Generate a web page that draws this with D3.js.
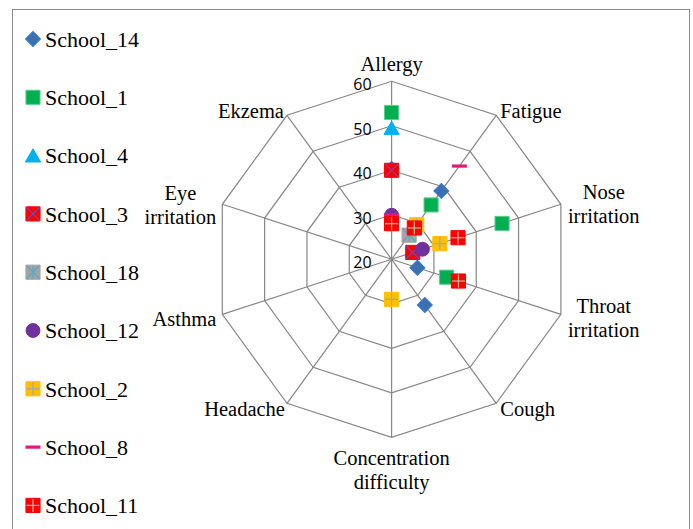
<!DOCTYPE html>
<html>
<head>
<meta charset="utf-8">
<script src="https://cdn.jsdelivr.net/npm/d3@7"></script>
<style>
  body { margin: 0; background: #fff; }
  .serif { font-family: "Liberation Serif", "Times New Roman", Times, serif; }
</style>
</head>
<body>
<div id="chart"></div>
<script>
// symptom categories, clockwise from the top
const categories = ["Allergy", "Fatigue", "Nose\nirritation", "Throat\nirritation", "Cough",
  "Concentration\ndifficulty", "Headache", "Asthma", "Eye\nirritation", "Ekzema"];
const ticks = [20, 30, 40, 50, 60];

// values per school (null = no marker shown)
const school14 = [40.3, 39.0, null, 26.1, 32.7, null, null, null, null, null];
const school1  = [53.0, 35.1, 46.1, 33.0, null, null, null, null, null, null];
const school4  = [49.5, null, null, null, null, null, null, null, null, null];
const school3  = [40.0, null, 25.0, null, null, null, null, null, null, null];
const school18 = [null, 26.7, null, null, null, null, null, null, null, null];
const school12 = [29.9, null, 27.3, null, null, null, null, null, null, null];
const school2  = [null, 29.6, 31.4, null, null, 29.0, null, null, null, null];
const school8  = [30.0, 45.9, null, null, null, null, null, null, null, null];
const school11 = [28.0, 28.7, 35.7, 35.8, null, null, null, null, null, null];

const seriesNames = ["School_14", "School_1", "School_4", "School_3", "School_18",
  "School_12", "School_2", "School_8", "School_11"];
const seriesValues = [school14, school1, school4, school3, school18, school12, school2, school8, school11];

const styles = {
  School_14: { shape: "diamond", fill: "#3e6fae", stroke: "#2b7bd6" },
  School_1:  { shape: "square", fill: "#00b050", stroke: "#5ccf8a" },
  School_4:  { shape: "triangle", fill: "#00b0f0", stroke: "#00b0f0" },
  School_3:  { shape: "square", fill: "#ff0000", stroke: "#ff0000", mark: "x", markColor: "#5b52c8" },
  School_18: { shape: "square", fill: "#a5a5a5", stroke: "#a5a5a5", mark: "star", markColor: "#4bacc6" },
  School_12: { shape: "circle", fill: "#7030a0", stroke: "#7030a0" },
  School_2:  { shape: "square", fill: "#ffc000", stroke: "#ffc000", mark: "plus", markColor: "#98a8c0" },
  School_8:  { shape: "dash", fill: "#e0197d", stroke: "none" },
  School_11: { shape: "square", fill: "#ff0000", stroke: "#ff0000", mark: "plus", markColor: "#c4bd97" }
};

const width = 693, height = 529;
const cx = 391.6, cy = 259.3, R = 178;

const svg = d3.select("#chart").append("svg")
  .attr("width", width)
  .attr("height", height);

// chart frame
svg.append("rect")
  .attr("x", 12.5).attr("y", 9.5)
  .attr("width", 677).attr("height", 560)
  .attr("fill", "none")
  .attr("stroke", "#8c8c8c")
  .attr("stroke-width", 1);

const r = d3.scaleLinear().domain([20, 60]).range([0, R]);
const angle = d3.scaleLinear().domain([0, categories.length]).range([0, 2 * Math.PI]);
const pt = (i, v) => [cx + r(v) * Math.sin(angle(i)), cy - r(v) * Math.cos(angle(i))];

const grid = svg.append("g");
const web = d3.line().curve(d3.curveLinearClosed);

grid.selectAll("path.ring")
  .data(ticks.slice(1))
  .join("path")
  .attr("class", "ring")
  .attr("d", t => web(categories.map((c, i) => pt(i, t))))
  .attr("fill", "none")
  .attr("stroke", "#878787")
  .attr("stroke-width", 1.2);

grid.selectAll("line.spoke")
  .data(categories)
  .join("line")
  .attr("class", "spoke")
  .attr("x1", cx).attr("y1", cy)
  .attr("x2", (c, i) => pt(i, 60)[0])
  .attr("y2", (c, i) => pt(i, 60)[1])
  .attr("stroke", "#878787")
  .attr("stroke-width", 1.2);

// value labels along the top axis
grid.selectAll("text.tick")
  .data(ticks)
  .join("text")
  .attr("class", "tick")
  .attr("x", cx - 20)
  .attr("y", t => cy - r(t) + 3)
  .attr("text-anchor", "end")
  .attr("dominant-baseline", "central")
  .style("font-family", "'Open Sans', sans-serif")
  .attr("font-size", 16)
  .attr("fill", "#000")
  .text(t => t);

// category labels: side offset and first-baseline offset from the outer vertex
const labelDx = [0, 4, 7, 7, 4, 0, -2, -6, -6, -3];
const labelDy = [-10, 3, -5, -1, 13, 28, 13, 12, -4.3, 3];
const lineH = 24;

categories.forEach((c, i) => {
  const [vx, vy] = pt(i, 60);
  const s = Math.sin(angle(i));
  const lines = c.split("\n");
  const t = svg.append("text")
    .attr("class", "serif")
    .attr("font-size", 20.5)
    .attr("fill", "#000");
  const spans = lines.map((l, k) => t.append("tspan")
    .attr("y", vy + labelDy[i] + k * lineH)
    .text(l));
  const ws = spans.map(sp => sp.node().getComputedTextLength());
  const bw = d3.max(ws);
  let left;
  if (Math.abs(s) < 0.1) left = vx - bw / 2;
  else if (s > 0) left = vx + labelDx[i];
  else left = vx + labelDx[i] - bw;
  spans.forEach((sp, k) => sp.attr("x", left + (bw - ws[k]) / 2));
});

function drawMarker(g, st) {
  if (st.shape === "diamond") {
    g.append("path")
      .attr("d", d3.symbol(d3.symbolSquare, 112)())
      .attr("transform", "rotate(45)")
      .attr("fill", st.fill).attr("stroke", st.stroke).attr("stroke-width", 1);
  } else if (st.shape === "square") {
    g.append("path")
      .attr("d", d3.symbol(d3.symbolSquare, 200)())
      .attr("fill", st.fill).attr("stroke", st.stroke).attr("stroke-width", 1);
  } else if (st.shape === "triangle") {
    g.append("path")
      .attr("d", d3.symbol(d3.symbolTriangle, 100)())
      .attr("transform", "translate(0,2)")
      .attr("fill", st.fill).attr("stroke", st.stroke).attr("stroke-width", 1);
  } else if (st.shape === "circle") {
    g.append("path")
      .attr("d", d3.symbol(d3.symbolCircle, 150)())
      .attr("fill", st.fill).attr("stroke", st.stroke).attr("stroke-width", 1);
  } else if (st.shape === "dash") {
    g.append("rect")
      .attr("x", -7.5).attr("y", -1.6)
      .attr("width", 15).attr("height", 3.2)
      .attr("fill", st.fill);
  }
  const h = 6.5;
  const segs = [];
  if (st.mark === "x" || st.mark === "star") segs.push([-h, -h, h, h], [-h, h, h, -h]);
  if (st.mark === "star") segs.push([0, -h, 0, h]);
  if (st.mark === "plus") segs.push([0, -h, 0, h], [-h, 0, h, 0]);
  segs.forEach(d => g.append("line")
    .attr("x1", d[0]).attr("y1", d[1]).attr("x2", d[2]).attr("y2", d[3])
    .attr("stroke", st.markColor).attr("stroke-width", 1.2));
}

// markers, first series at the bottom
const marks = svg.append("g");
seriesNames.forEach((name, si) => {
  seriesValues[si].forEach((v, i) => {
    if (v == null) return;
    const [x, y] = pt(i, v);
    drawMarker(marks.append("g").attr("transform", `translate(${x},${y})`), styles[name]);
  });
});

// legend
const legend = svg.append("g");
seriesNames.forEach((name, si) => {
  const y = 39 + si * 58.3;
  drawMarker(legend.append("g").attr("transform", `translate(33,${y})`), styles[name]);
  legend.append("text")
    .attr("class", "serif")
    .attr("x", 45).attr("y", y + 7.7)
    .attr("font-size", 22)
    .attr("fill", "#000")
    .text(name);
});
</script>
</body>
</html>
